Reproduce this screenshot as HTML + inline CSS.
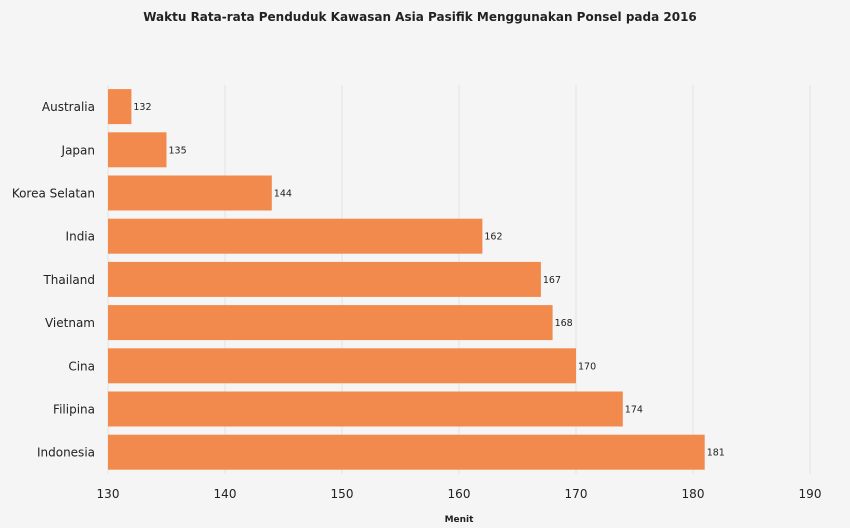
<!DOCTYPE html>
<html><head><meta charset="utf-8"><style>
body{margin:0;background:#f5f5f5;}
svg{display:block;font-family:"DejaVu Sans","Liberation Sans",sans-serif;}
</style></head><body>
<svg id="chart" width="850" height="528">
<rect width="850" height="528" fill="#f5f5f5"/>
<text x="420" y="21" text-anchor="middle" font-size="12" font-weight="bold" fill="#222">Waktu Rata-rata Penduduk Kawasan Asia Pasifik Menggunakan Ponsel pada 2016</text>
<g id="grid"></g><g id="bars"></g><g id="ylabels"></g><g id="xlabels"></g>
<text x="459" y="522" text-anchor="middle" font-size="9" font-weight="bold" fill="#222">Menit</text>
</svg>
<script>
const categories=["Australia","Japan","Korea Selatan","India","Thailand","Vietnam","Cina","Filipina","Indonesia"];
const values=[132,135,144,162,167,168,170,174,181];
const ticks=[130,140,150,160,170,180,190];
const x0=108,x1=810,dmin=130,dmax=190,plotTop=85,band=43.2,bh=35;
const xs=v=>x0+(v-dmin)/(dmax-dmin)*(x1-x0);
const ys=i=>plotTop+i*band+(band-bh)/2;
const NS="http://www.w3.org/2000/svg";
function mk(tag,attrs,parent,txt){const e=document.createElementNS(NS,tag);for(const k in attrs)e.setAttribute(k,attrs[k]);if(txt!==undefined)e.textContent=txt;document.getElementById(parent).appendChild(e);return e;}
ticks.forEach(t=>{
 const l=mk("line",{x1:xs(t),x2:xs(t),y1:plotTop,y2:plotTop+band*9,stroke:"#e2e2e2","stroke-width":1},"grid");
 
 
 const tx=mk("text",{x:xs(t),y:498,"text-anchor":"middle","font-size":12,fill:"#222"},"xlabels",String(t));
 
 
});
categories.forEach((c,i)=>{
 const y=ys(i);
 const r=mk("rect",{x:x0,y:y,width:xs(values[i])-x0,height:bh,fill:"#f28a4e"},"bars");
 
 
 const v=mk("text",{x:xs(values[i])+2,y:y+bh/2+3.5,"font-size":9.5,fill:"#222"},"bars",String(values[i]));
 
 
 const lb=mk("text",{x:95,y:y+bh/2+4.5,"text-anchor":"end","font-size":12,fill:"#222"},"ylabels",c);
 
 
});
</script>
</body></html>
